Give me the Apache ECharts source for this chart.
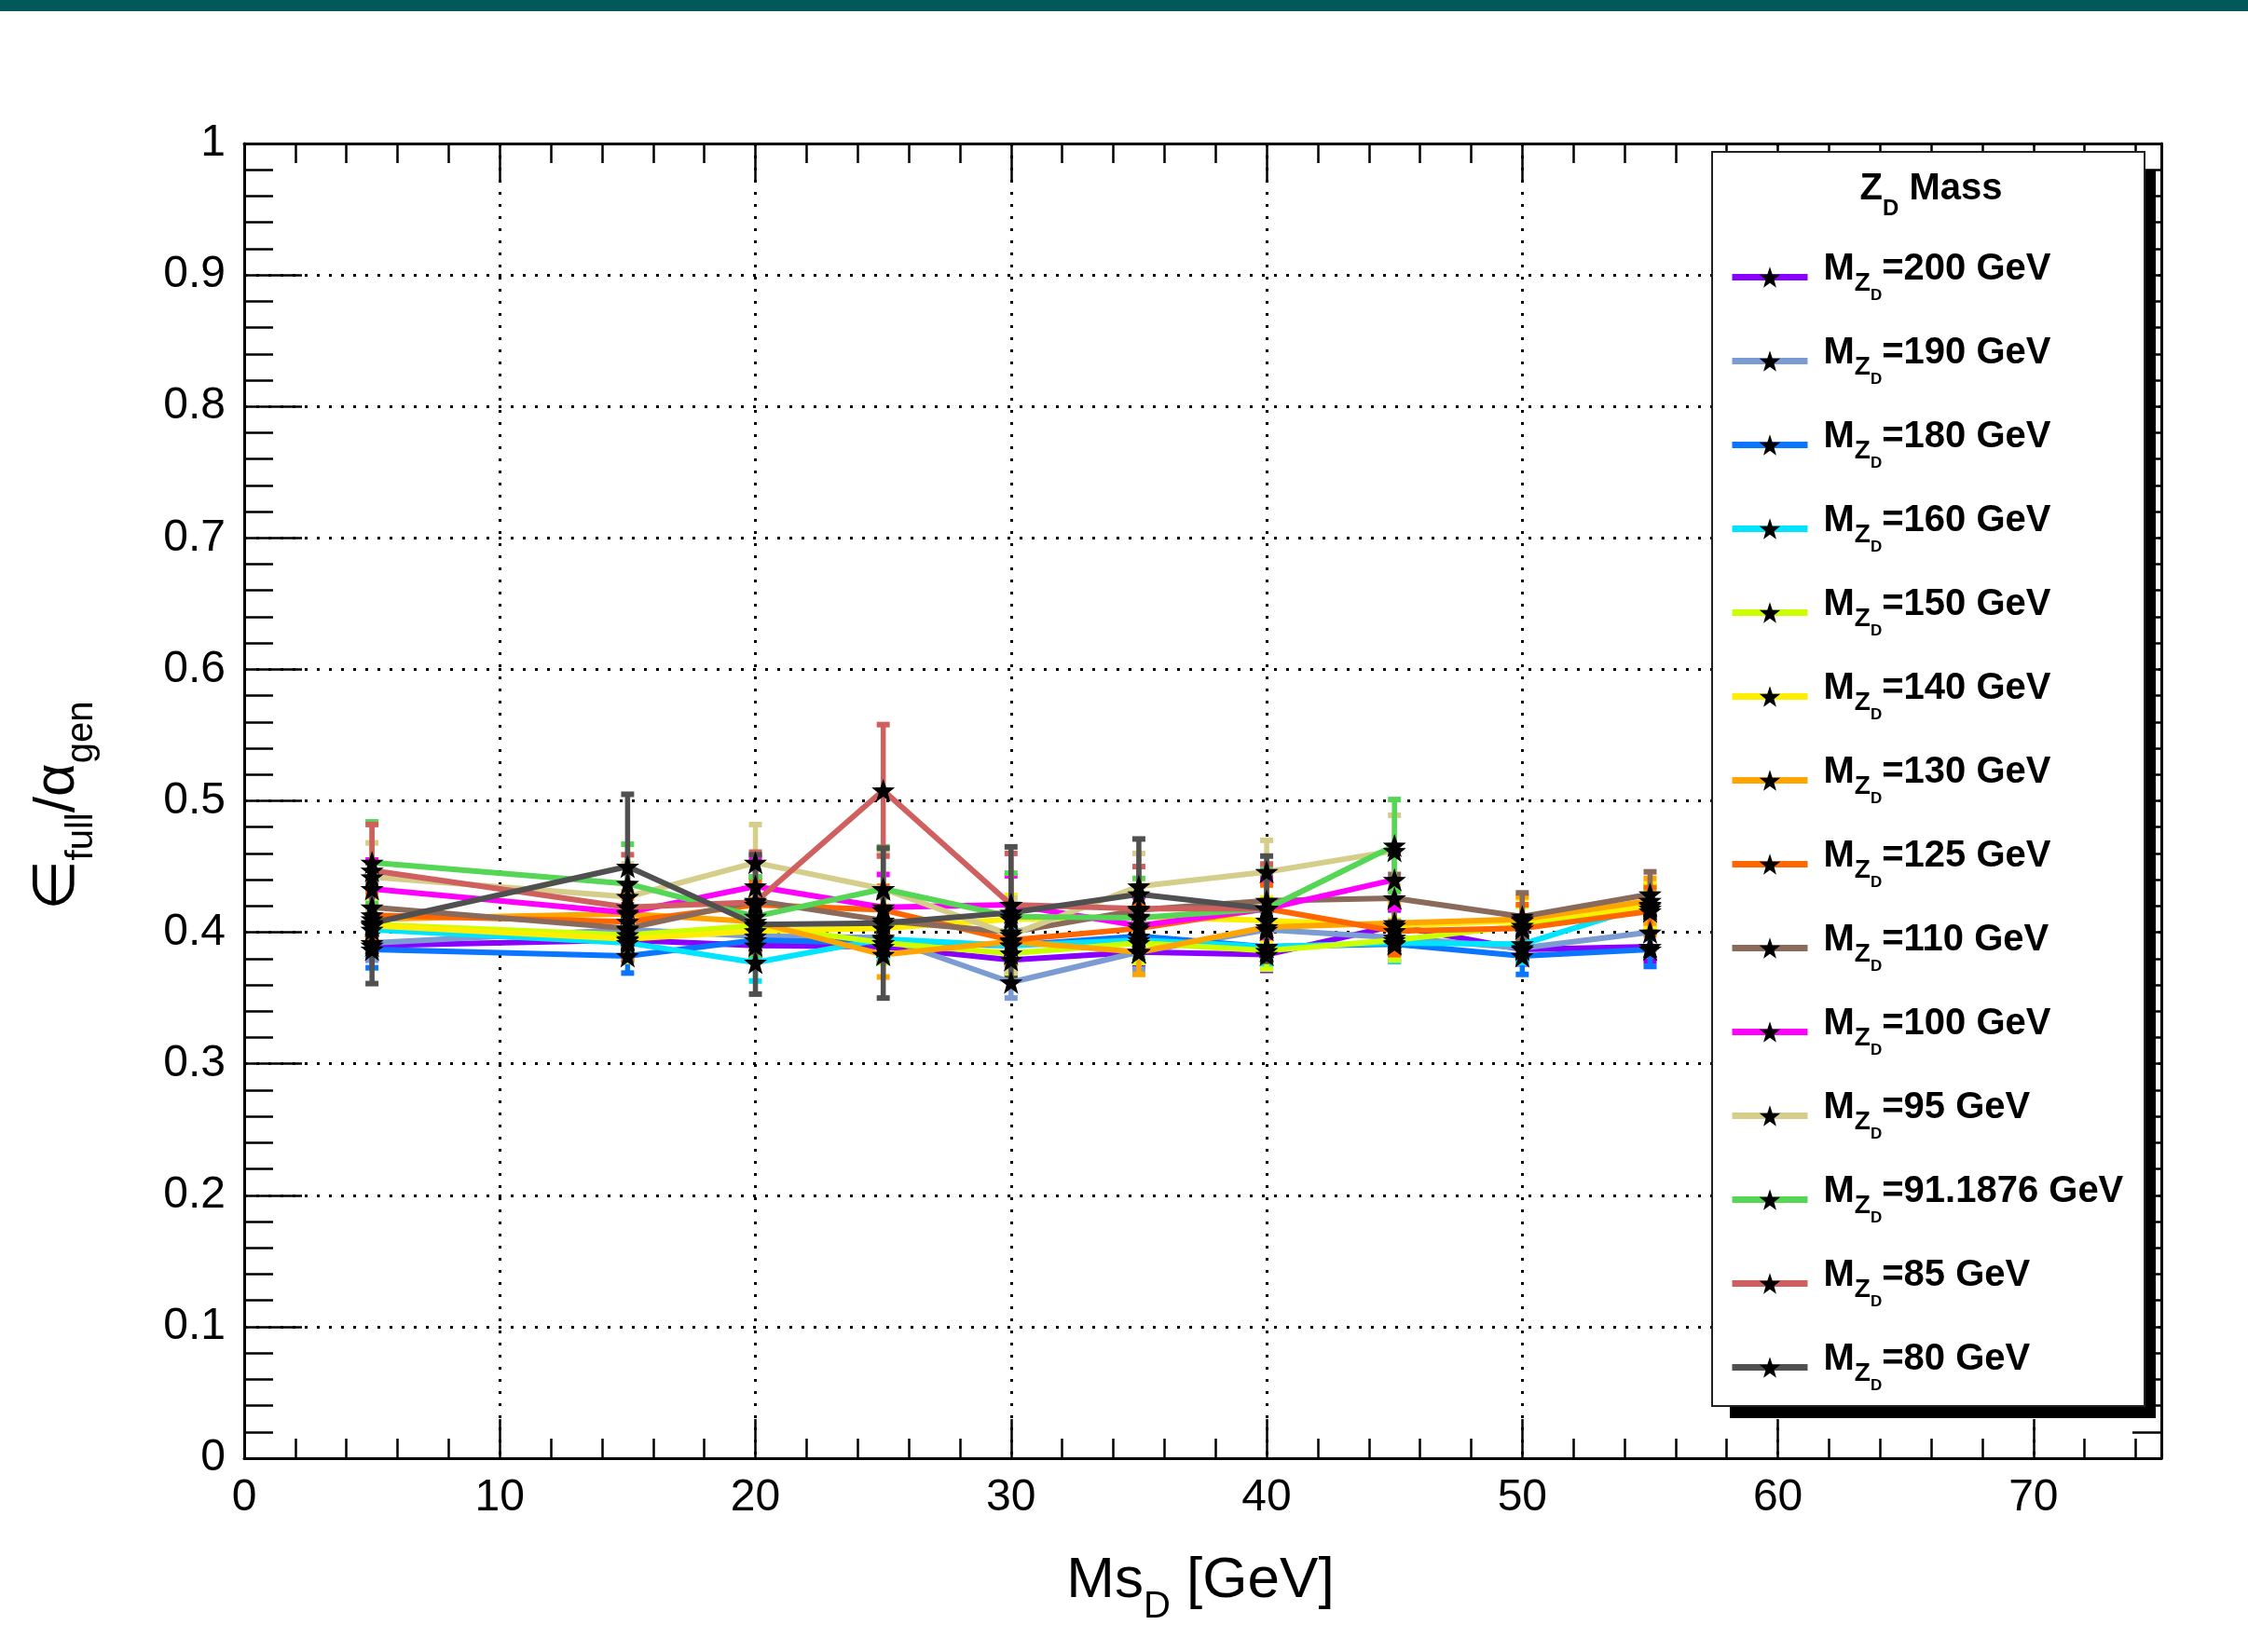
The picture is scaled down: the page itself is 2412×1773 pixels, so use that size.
<!DOCTYPE html>
<html>
<head>
<meta charset="utf-8">
<script src="https://cdn.jsdelivr.net/npm/echarts@6/dist/echarts.min.js"></script>
<style>
html, body { margin: 0; padding: 0; background: #fff; }
#chart { width: 2412px; height: 1773px; }
</style>
</head>
<body>
<div id="chart"></div>
<script>
// Ms_D points [GeV]
const msD = [5, 15, 20, 25, 30, 35, 40, 45, 50, 55];

// eff_full / alpha_gen for each Z_D mass
const eff200 = [0.390, 0.394, 0.390, 0.389, 0.379, 0.385, 0.383, 0.405, 0.387, 0.389];
const eff190 = [0.392, 0.402, 0.397, 0.396, 0.362, 0.385, 0.402, 0.396, 0.388, 0.400];
const eff180 = [0.387, 0.382, 0.394, 0.392, 0.390, 0.397, 0.389, 0.391, 0.382, 0.387];
const eff160 = [0.402, 0.392, 0.377, 0.395, 0.390, 0.394, 0.389, 0.392, 0.391, 0.421];
const eff150 = [0.406, 0.398, 0.405, 0.392, 0.384, 0.392, 0.386, 0.394, 0.405, 0.418];
const eff140 = [0.405, 0.395, 0.401, 0.403, 0.410, 0.412, 0.409, 0.405, 0.409, 0.420];
const eff130 = [0.410, 0.414, 0.408, 0.383, 0.393, 0.385, 0.404, 0.407, 0.410, 0.424];
const eff125 = [0.413, 0.408, 0.421, 0.417, 0.394, 0.403, 0.418, 0.401, 0.403, 0.416];
const eff110 = [0.419, 0.403, 0.424, 0.409, 0.400, 0.417, 0.424, 0.426, 0.412, 0.429];
const eff100 = [0.433, 0.415, 0.435, 0.419, 0.421, 0.405, 0.418, 0.440];
const eff95  = [0.442, 0.427, 0.453, 0.433, 0.398, 0.435, 0.446, 0.462];
const eff91  = [0.453, 0.437, 0.412, 0.433, 0.412, 0.411, 0.418, 0.466];
const eff85  = [0.447, 0.419, 0.423, 0.508, 0.421, 0.418, 0.418];
const eff80  = [0.407, 0.450, 0.406, 0.407, 0.415, 0.429, 0.418];

// uncertainties
const err200 = [0.011, 0.012, 0.011, 0.012, 0.012, 0.011, 0.012, 0.012, 0.011, 0.011];
const err190 = [0.013, 0.013, 0.013, 0.013, 0.012, 0.013, 0.013, 0.013, 0.012, 0.013];
const err180 = [0.014, 0.013, 0.013, 0.015, 0.013, 0.013, 0.013, 0.013, 0.014, 0.013];
const err160 = [0.014, 0.014, 0.014, 0.014, 0.014, 0.014, 0.014, 0.014, 0.014, 0.014];
const err150 = [0.015, 0.015, 0.015, 0.015, 0.015, 0.015, 0.014, 0.015, 0.015, 0.015];
const err140 = [0.017, 0.017, 0.017, 0.017, 0.018, 0.017, 0.017, 0.017, 0.017, 0.017];
const err130 = [0.017, 0.017, 0.017, 0.017, 0.017, 0.017, 0.017, 0.017, 0.017, 0.017];
const err125 = [0.018, 0.018, 0.018, 0.018, 0.018, 0.018, 0.018, 0.018, 0.018, 0.018];
const err110 = [0.018, 0.018, 0.018, 0.018, 0.018, 0.018, 0.018, 0.018, 0.018, 0.017];
const err100 = [0.022, 0.022, 0.022, 0.025, 0.022, 0.022, 0.022, 0.022];
const err95  = [0.026, 0.025, 0.029, 0.027, 0.028, 0.025, 0.024, 0.027];
const err91  = [0.031, 0.030, 0.030, 0.032, 0.033, 0.030, 0.030, 0.035];
const err85  = [0.035, 0.040, 0.038, 0.050, 0.039, 0.032, 0.034];
const err80  = [0.046, 0.055, 0.053, 0.057, 0.050, 0.042, 0.040];

const massLabels = ['200', '190', '180', '160', '150', '140', '130', '125', '110', '100', '95', '91.1876', '85', '80'];
const effs = [eff200, eff190, eff180, eff160, eff150, eff140, eff130, eff125, eff110, eff100, eff95, eff91, eff85, eff80];
const errs = [err200, err190, err180, err160, err150, err140, err130, err125, err110, err100, err95, err91, err85, err80];
const colors = ['#8a00ff', '#7b9bd3', '#0a75ff', '#00e5ff', '#ccff00', '#ffee00', '#ffa500',
                '#ff6600', '#8a6a5a', '#ff00ff', '#d4ce8a', '#55d655', '#d06060', '#505050'];

const STAR = 'path://M0,-10L2.35,-3.24L9.51,-3.09L3.8,1.24L5.88,8.09L0,4L-5.88,8.09L-3.8,1.24L-9.51,-3.09L-2.35,-3.24Z';
const FONT = 'Liberation Sans, Arial, Helvetica, sans-serif';

function drawErr(params, api) {
  const x = api.value(0);
  const top = api.coord([x, api.value(2)]);
  const bot = api.coord([x, api.value(1)]);
  const c = api.visual('color');
  return {
    type: 'group',
    children: [
      { type: 'line', shape: { x1: top[0], y1: top[1], x2: bot[0], y2: bot[1] }, style: { stroke: c, lineWidth: 5.5 } },
      { type: 'rect', shape: { x: top[0] - 7, y: top[1] - 3, width: 14, height: 6 }, style: { fill: c } },
      { type: 'rect', shape: { x: bot[0] - 7, y: bot[1] - 3, width: 14, height: 6 }, style: { fill: c } }
    ]
  };
}

let names = [];
let series = [];
for (let i = 0; i < massLabels.length; i++) {
  let name = massLabels[i];
  names.push(name);
  let y = effs[i], e = errs[i];
  let pts = [], bars = [];
  for (let k = 0; k < y.length; k++) {
    pts.push([msD[k], y[k]]);
    bars.push([msD[k], y[k] - e[k], y[k] + e[k]]);
  }
  series.push({
    name: name + ' err', type: 'custom', renderItem: drawErr, data: bars,
    encode: { x: 0, y: [1, 2] }, itemStyle: { color: colors[i] }, z: 3, silent: true
  });
  series.push({
    name: name, type: 'line', data: pts, symbol: STAR, symbolSize: 25,
    itemStyle: { color: '#000' }, lineStyle: { color: colors[i], width: 6 }, z: 3
  });
}

const axisLine = { onZero: false, lineStyle: { color: '#000', width: 3 } };
const tickStyle = { color: '#000', width: 2.5 };
const dotted = { show: true, lineStyle: { color: '#000', width: 3, type: [3, 10] } };

let chart = echarts.init(document.getElementById('chart'));
chart.setOption({
  animation: false,
  backgroundColor: '#fff',
  grid: { left: 262, right: 93, top: 154, bottom: 208, containLabel: false },
  xAxis: [
    { type: 'value', position: 'bottom', min: 0, max: 75, interval: 10, axisLine: axisLine,
      axisTick: { inside: true, length: 42, lineStyle: tickStyle },
      axisLabel: { fontSize: 48, color: '#000', fontFamily: FONT, margin: 19, showMaxLabel: false },
      splitLine: dotted },
    { type: 'value', position: 'bottom', min: 0, max: 75, interval: 2, axisLine: { show: false, onZero: false },
      axisTick: { inside: true, length: 21, lineStyle: tickStyle }, axisLabel: { show: false }, splitLine: { show: false } },
    { type: 'value', position: 'top', min: 0, max: 75, interval: 10, axisLine: axisLine,
      axisTick: { inside: true, length: 42, lineStyle: tickStyle }, axisLabel: { show: false }, splitLine: { show: false } },
    { type: 'value', position: 'top', min: 0, max: 75, interval: 2, axisLine: { show: false, onZero: false },
      axisTick: { inside: true, length: 21, lineStyle: tickStyle }, axisLabel: { show: false }, splitLine: { show: false } }
  ],
  yAxis: [
    { type: 'value', position: 'left', min: 0, max: 1, interval: 0.1, axisLine: axisLine,
      axisTick: { inside: true, length: 62, lineStyle: tickStyle },
      minorTick: { show: true, splitNumber: 5, length: 31, lineStyle: tickStyle },
      axisLabel: { fontSize: 48, color: '#000', fontFamily: FONT, margin: 20, padding: [9, 0, 0, 0] },
      splitLine: dotted },
    { type: 'value', position: 'right', min: 0, max: 1, interval: 0.1, axisLine: axisLine,
      axisTick: { inside: true, length: 62, lineStyle: tickStyle },
      minorTick: { show: true, splitNumber: 5, length: 31, lineStyle: tickStyle },
      axisLabel: { show: false }, splitLine: { show: false } }
  ],
  legend: {
    data: names, orient: 'vertical', left: 1855, top: 269, padding: 0,
    itemGap: 33, itemWidth: 81, itemHeight: 28, selectedMode: false, z: 20,
    lineStyle: { width: 7 },
    formatter: function (name) {
      return '{p|M}{z|Z}{d|D}{m|=' + name + ' GeV}';
    },
    textStyle: {
      rich: {
        p: { fontSize: 40, fontWeight: 'bold', fontFamily: FONT, color: '#000', verticalAlign: 'top', padding: [0, 0, 0, 12] },
        z: { fontSize: 28, fontWeight: 'bold', fontFamily: FONT, color: '#000', verticalAlign: 'top', padding: [21, 0, 0, 0] },
        d: { fontSize: 17, fontWeight: 'bold', fontFamily: FONT, color: '#000', verticalAlign: 'top', padding: [40, 0, 0, 0] },
        m: { fontSize: 40, fontWeight: 'bold', fontFamily: FONT, color: '#000', verticalAlign: 'top' }
      }
    }
  },
  graphic: [
    { type: 'rect', shape: { x: 0, y: 0, width: 2412, height: 12 }, style: { fill: '#03585a' }, z: 10 },
    { type: 'rect', shape: { x: 1856, y: 182, width: 457, height: 1340 }, style: { fill: '#000' }, z: 10 },
    { type: 'rect', shape: { x: 1837, y: 163, width: 464, height: 1346 }, style: { fill: '#fff', stroke: '#222', lineWidth: 2 }, z: 11 },
    { type: 'text', x: 2072, y: 183, z: 12,
      style: { text: '{m|Z}{s|D}{m| Mass}', align: 'center', verticalAlign: 'top',
        rich: {
          m: { fontSize: 40, fontWeight: 'bold', fontFamily: FONT, fill: '#000', verticalAlign: 'top' },
          s: { fontSize: 24, fontWeight: 'bold', fontFamily: FONT, fill: '#000', verticalAlign: 'top', padding: [29, 0, 0, 0] }
        } } },
    { type: 'text', x: 1288, y: 1666, z: 12,
      style: { text: '{m|Ms}{s|D}{m| [GeV]}', align: 'center', verticalAlign: 'top',
        rich: {
          m: { fontSize: 62, fontFamily: FONT, fill: '#000', verticalAlign: 'top' },
          s: { fontSize: 40, fontFamily: FONT, fill: '#000', verticalAlign: 'top', padding: [39, 0, 0, 0] }
        } } },
    { type: 'text', x: 31, y: 865, rotation: Math.PI / 2, z: 12,
      style: { text: '{m|\u2208}{s|full}{m|/\u03b1}{s|gen}', align: 'center', verticalAlign: 'top',
        rich: {
          m: { fontSize: 62, fontFamily: FONT, fill: '#000', verticalAlign: 'top' },
          s: { fontSize: 40, fontFamily: FONT, fill: '#000', verticalAlign: 'top', padding: [37, 0, 0, 0] }
        } } }
  ],
  series: series
});
</script>
</body>
</html>
